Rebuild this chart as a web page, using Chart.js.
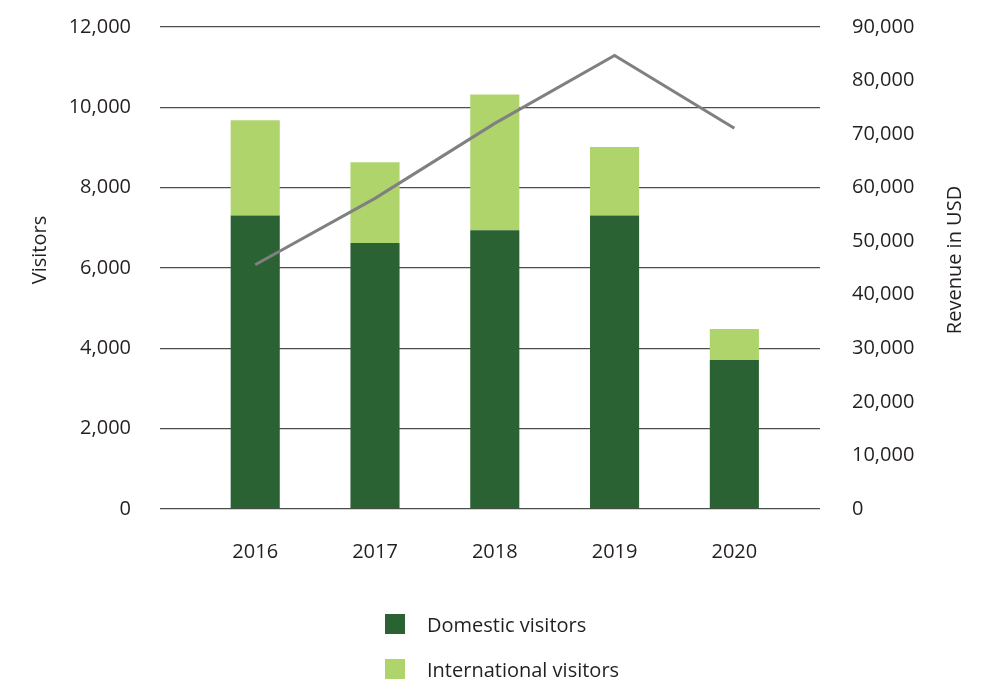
<!DOCTYPE html>
<html>
<head>
<meta charset="utf-8">
<script src="https://cdn.jsdelivr.net/npm/chart.js@4/dist/chart.umd.min.js"></script>
<style>
  html, body { margin: 0; padding: 0; background: #ffffff; }
  #wrap { position: relative; width: 986px; height: 681px; font-family: 'Open Sans', sans-serif; color: #231f20; }
  #c { position: absolute; left: 0; top: 0; }
  .lg { position: absolute; left: 385px; height: 20px; display: flex; align-items: center; font-size: 20px; white-space: nowrap; }
  .lg span.box { width: 20px; height: 20px; display: inline-block; margin-right: 22px; }
</style>
</head>
<body>
<div id="wrap">
  <canvas id="c" width="986" height="681"></canvas>
  <div class="lg" style="top:614px"><span class="box" style="background:#2a6233"></span><span>Domestic visitors</span></div>
  <div class="lg" style="top:659px"><span class="box" style="background:#afd46c"></span><span>International visitors</span></div>
</div>
<script>
// ---- data ----
const years = ['2016', '2017', '2018', '2019', '2020'];
const domesticVisitors = [7310, 6620, 6940, 7310, 3710];
const internationalVisitors = [2370, 2010, 3380, 1700, 770];
const revenueUSD = [45600, 58000, 72000, 84700, 71100];
const visitorTicks = [0, 2000, 4000, 6000, 8000, 10000, 12000];
const revenueTicks = [0, 10000, 20000, 30000, 40000, 50000, 60000, 70000, 80000, 90000];

const TEXT = '#231f20';
const FONT = "'Open Sans', sans-serif";
const fmt = v => Number(v).toLocaleString('en-US');

const titlesPlugin = {
  id: 'axisTitles',
  afterDraw(chart) {
    const ctx = chart.ctx, a = chart.chartArea;
    ctx.save();
    ctx.fillStyle = TEXT;
    ctx.font = '20px ' + FONT;
    ctx.textAlign = 'center';
    ctx.textBaseline = 'middle';
    ctx.translate(40, (a.top + a.bottom) / 2 - 18);
    ctx.rotate(-Math.PI / 2);
    ctx.fillText('Visitors', 0, 0);
    ctx.restore();
    ctx.save();
    ctx.fillStyle = TEXT;
    ctx.font = '20px ' + FONT;
    ctx.textAlign = 'center';
    ctx.textBaseline = 'middle';
    ctx.translate(955, (a.top + a.bottom) / 2 - 8);
    ctx.rotate(-Math.PI / 2);
    ctx.fillText('Revenue in USD', 0, 0);
    ctx.restore();
  }
};

new Chart(document.getElementById('c'), {
  data: {
    datasets: [
      {
        type: 'line',
        label: 'Revenue in USD',
        data: revenueUSD.map((v, i) => ({ x: i, y: v })),
        yAxisID: 'y1',
        borderColor: '#808080',
        borderWidth: 3,
        pointRadius: 0,
        tension: 0,
        fill: false,
        order: 0
      },
      {
        type: 'bar',
        label: 'Domestic visitors',
        data: domesticVisitors.map((v, i) => ({ x: i, y: v })),
        backgroundColor: '#2a6233',
        yAxisID: 'y',
        stack: 'v',
        barPercentage: 0.41,
        categoryPercentage: 1,
        order: 1
      },
      {
        type: 'bar',
        label: 'International visitors',
        data: internationalVisitors.map((v, i) => ({ x: i, y: v })),
        backgroundColor: '#afd46c',
        yAxisID: 'y',
        stack: 'v',
        barPercentage: 0.41,
        categoryPercentage: 1,
        order: 1
      }
    ]
  },
  options: {
    responsive: false,
    animation: false,
    layout: { padding: { left: 0, right: 0, top: 27, bottom: 117 } },
    plugins: {
      legend: { display: false },
      tooltip: { enabled: false }
    },
    scales: {
      x: {
        type: 'linear',
        stacked: true,
        offset: false,
        min: -0.795,
        max: 4.715,
        grid: { display: false, drawTicks: false, offset: false },
        border: { display: false },
        afterBuildTicks: s => { s.ticks = years.map((_, i) => ({ value: i })); },
        afterFit: s => { s.height = 55; },
        ticks: {
          padding: 31,
          color: TEXT,
          font: { family: FONT, size: 20 },
          callback: v => years[v]
        }
      },
      y: {
        position: 'left',
        stacked: true,
        min: 0,
        max: 12000,
        afterBuildTicks: s => { s.ticks = visitorTicks.map(v => ({ value: v })); },
        afterFit: s => { s.width = 160; },
        grid: { color: '#4d4d4d', lineWidth: 1.3, drawTicks: true, tickLength: 28, tickColor: 'rgba(0,0,0,0)' },
        border: { display: false },
        ticks: {
          padding: 1,
          color: TEXT,
          font: { family: FONT, size: 20 },
          callback: v => fmt(v)
        }
      },
      y1: {
        position: 'right',
        min: 0,
        max: 90000,
        afterBuildTicks: s => { s.ticks = revenueTicks.map(v => ({ value: v })); },
        afterFit: s => { s.width = 166; },
        grid: { display: false, drawTicks: true, tickLength: 31, tickColor: 'rgba(0,0,0,0)' },
        border: { display: false },
        ticks: {
          padding: 1,
          color: TEXT,
          font: { family: FONT, size: 20 },
          callback: v => fmt(v)
        }
      }
    }
  },
  plugins: [titlesPlugin]
});
</script>
</body>
</html>
